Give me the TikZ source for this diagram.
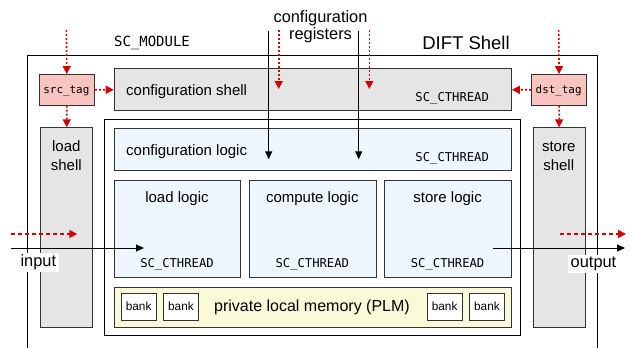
\documentclass[tikz,border=0pt]{standalone}
\usepackage{fontspec}
\setmainfont{Liberation Sans}
\setmonofont{DejaVu Sans Mono}
\usetikzlibrary{arrows.meta}
\definecolor{shellgray}{HTML}{E5E5E5}
\definecolor{logicblue}{HTML}{EEF6FF}
\definecolor{plmyellow}{HTML}{FAFAD8}
\definecolor{tagpink}{HTML}{F8C4BF}
\definecolor{redarrow}{HTML}{D40000}
\definecolor{bordergray}{HTML}{333333}
\begin{document}
\begin{tikzpicture}[x=1pt,y=-1pt,
  box/.style={draw=bordergray, line width=0.9pt, inner sep=0pt, anchor=north west},
  shellbox/.style={box, fill=shellgray},
  logicbox/.style={box, fill=logicblue},
  tagbox/.style={box, fill=tagpink},
  plmbox/.style={box, fill=plmyellow},
  bankbox/.style={box, fill=white, minimum width=35pt, minimum height=26.7pt},
  outline/.style={draw=black, line width=0.9pt},
  txt/.style={inner sep=0pt, font=\fontsize{15}{18}\selectfont, anchor=base},
  bigtxt/.style={inner sep=0pt, font=\fontsize{16.4}{19}\selectfont, anchor=base},
  thread/.style={inner sep=0pt, font=\ttfamily\fontsize{12.2}{14}\selectfont, anchor=base},
  tagtxt/.style={inner sep=0pt, font=\ttfamily\fontsize{10.9}{13}\selectfont, anchor=base},
  banktxt/.style={inner sep=0pt, font=\fontsize{11.8}{14}\selectfont, anchor=base},
  reddot/.style={draw=redarrow, line width=1.6pt, dash pattern=on 2pt off 2pt,
     -{Triangle[length=8pt,width=8pt]}},
  reddash/.style={draw=redarrow, line width=1.6pt, dash pattern=on 4pt off 3pt,
     -{Triangle[length=8pt,width=8pt]}},
  blackarrow/.style={draw=black, line width=1pt, -{Triangle[length=8pt,width=7pt]}},
  iolabel/.style={bigtxt, fill=white, inner xsep=3pt, inner ysep=2pt}
]
\useasboundingbox (0,0) rectangle (631,348);
\fill[white] (0,0) rectangle (631,348);

% DIFT shell outline (bottom edge outside the picture)
\draw[outline] (27,348) -- (27,55) -- (597.3,55) -- (597.3,348);
\node[inner sep=0pt, font=\ttfamily\fontsize{14}{16}\selectfont, anchor=base] (scmodule) at (152,46.7) {SC\_MODULE};
\node[inner sep=0pt, font=\fontsize{18.5}{22}\selectfont, anchor=base] (diftshell) at (466,49.3) {DIFT Shell};

% inner module rectangle
\node[box, draw=black, fill=white, minimum width=416pt, minimum height=216.6pt] (inner) at (104.3,118.7) {};

% shells and tags
\node[shellbox, minimum width=397.3pt, minimum height=42pt] (cshell) at (113.7,68.3) {};
\node[tagbox, minimum width=55.3pt, minimum height=30.7pt] (srctag) at (38.7,74) {};
\node[tagbox, minimum width=55.3pt, minimum height=30.7pt] (dsttag) at (531,74) {};
\node[shellbox, minimum width=52pt, minimum height=199.4pt] (lshell) at (40.3,127.3) {};
\node[shellbox, minimum width=52pt, minimum height=199.4pt] (sshell) at (532.7,127.3) {};

% logic blocks
\node[logicbox, minimum width=397.3pt, minimum height=42.3pt] (clogic) at (113.7,127.7) {};
\node[logicbox, minimum width=126.6pt, minimum height=97pt] (llogic) at (113.7,180.3) {};
\node[logicbox, minimum width=126.7pt, minimum height=97pt] (complogic) at (249,180.3) {};
\node[logicbox, minimum width=126.7pt, minimum height=97pt] (slogic) at (384.3,180.3) {};
\node[plmbox, minimum width=397.3pt, minimum height=39.7pt] (plm) at (113.7,287) {};
\node[bankbox] (bank1) at (120.7,293.3) {};
\node[bankbox] (bank2) at (163,293.3) {};
\node[bankbox] (bank3) at (426.7,293.3) {};
\node[bankbox] (bank4) at (469,293.3) {};

% texts
\node[tagtxt] (srctxt) at (66.35,93.5) {src\_tag};
\node[tagtxt] (dsttxt) at (558.65,93.5) {dst\_tag};
\node[txt, anchor=base west] (cshelltxt) at (126,95) {configuration shell};
\node[thread] (cshellthr) at (452.2,101.7) {SC\_CTHREAD};
\node[txt, anchor=base west] (clogictxt) at (126,155) {configuration logic};
\node[thread] (clogicthr) at (452.2,161.7) {SC\_CTHREAD};
\node[txt] (lshelltxta) at (66.3,151.7) {load};
\node[txt] (lshelltxtb) at (66.3,170.2) {shell};
\node[txt] (sshelltxta) at (558.7,151.7) {store};
\node[txt] (sshelltxtb) at (558.7,170.2) {shell};
\node[txt] (llogictxt) at (177,202.3) {load logic};
\node[txt] (complogictxt) at (312.3,202.3) {compute logic};
\node[txt] (slogictxt) at (447.6,202.3) {store logic};
\node[thread] (llogicthr) at (177,267) {SC\_CTHREAD};
\node[thread] (complogicthr) at (312.3,267) {SC\_CTHREAD};
\node[thread] (slogicthr) at (447.6,267) {SC\_CTHREAD};
\node[banktxt] at (bank1.center |- 0,310) {bank};
\node[banktxt] at (bank2.center |- 0,310) {bank};
\node[banktxt] at (bank3.center |- 0,310) {bank};
\node[banktxt] at (bank4.center |- 0,310) {bank};
\node[inner sep=0pt, font=\fontsize{16}{19}\selectfont, anchor=base] (plmtxt) at (312,311.7) {private local memory (PLM)};
\node[bigtxt] (cfgregA) at (320.5,22.3) {configuration};
\node[bigtxt] (cfgregB) at (320.5,39) {registers};

% tag arrows
\coordinate (srcin) at (66.35,30);
\coordinate (dstin) at (558.65,30);
\draw[reddot] (srcin) -- (srctag.north);
\draw[reddot] (srctag.east) -- (cshell.west);
\draw[reddot] (srctag.south) -- (lshell.north);
\draw[reddot] (dstin) -- (dsttag.north);
\draw[reddot] (dsttag.west) -- (cshell.east);
\draw[reddot] (dsttag.south) -- (sshell.north);

% configuration registers
\coordinate (regAtop) at (268.7,30.7);
\coordinate (regAend) at (268.7,159.3);
\coordinate (regBtop) at (358.7,30.7);
\coordinate (regBend) at (358.7,159.3);
\coordinate (tagAtop) at (278.7,30);
\coordinate (tagAend) at (278.7,89);
\coordinate (tagBtop) at (369.3,30);
\coordinate (tagBend) at (369.3,89);
\draw[blackarrow] (regAtop) -- (regAend);
\draw[blackarrow] (regBtop) -- (regBend);
\draw[reddot] (tagAtop) -- (tagAend);
\draw[reddot] (tagBtop) -- (tagBend);

% input / output
\coordinate (inA) at (11,248);
\coordinate (inAend) at (144,248);
\coordinate (inB) at (11,234);
\coordinate (inBend) at (77.3,234);
\coordinate (outA) at (492.7,248);
\coordinate (outAend) at (625,248);
\coordinate (outB) at (560,234);
\coordinate (outBend) at (626,234);
\draw[blackarrow] (inA) -- (inAend);
\draw[reddash] (inB) -- (inBend);
\draw[blackarrow] (outA) -- (outAend);
\draw[reddash] (outB) -- (outBend);
\node[iolabel] (inputlbl) at (38.3,266.7) {input};
\node[iolabel] (outputlbl) at (593.5,267.5) {output};
\end{tikzpicture}
\end{document}
